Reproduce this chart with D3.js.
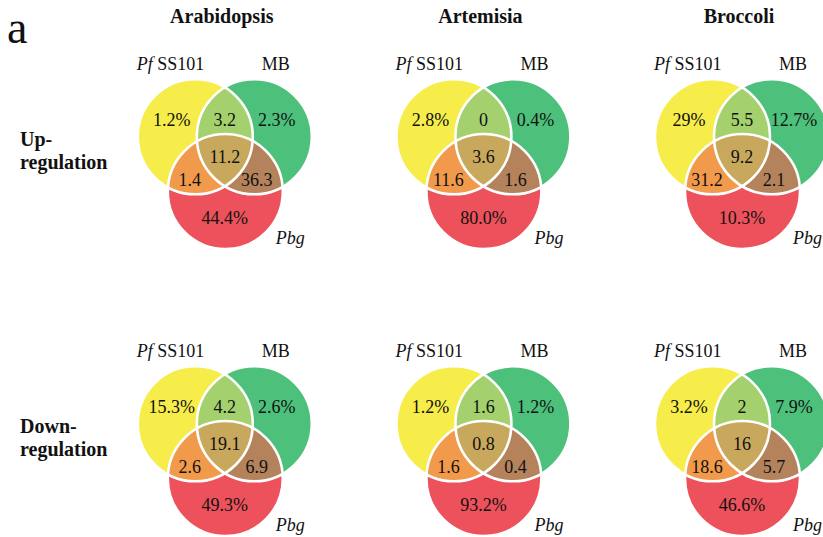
<!DOCTYPE html>
<html>
<head>
<meta charset="utf-8">
<script src="https://cdn.jsdelivr.net/npm/d3@7"></script>
<style>
  html, body { margin: 0; padding: 0; background: #fff; }
  svg { display: block; }
</style>
</head>
<body>
<script>
// Plants (columns) and regulation direction (rows)
const plants = ["Arabidopsis", "Artemisia", "Broccoli"];
const directions = ["Up-regulation", "Down-regulation"];
const rowLabels = [["Up-", "regulation"], ["Down-", "regulation"]];

// Set names
const setNames = ["Pf SS101", "MB", "Pbg"];

// Region order: Pf only, Pf∩MB, MB only, Pf∩Pbg, all three, MB∩Pbg, Pbg only
const regionKeys = ["pf", "pfmb", "mb", "pfpbg", "all", "mbpbg", "pbg"];

const upArabidopsis   = ["1.2%", "3.2", "2.3%", "1.4", "11.2", "36.3", "44.4%"];
const upArtemisia     = ["2.8%", "0", "0.4%", "11.6", "3.6", "1.6", "80.0%"];
const upBroccoli      = ["29%", "5.5", "12.7%", "31.2", "9.2", "2.1", "10.3%"];
const downArabidopsis = ["15.3%", "4.2", "2.6%", "2.6", "19.1", "6.9", "49.3%"];
const downArtemisia   = ["1.2%", "1.6", "1.2%", "1.6", "0.8", "0.4", "93.2%"];
const downBroccoli    = ["3.2%", "2", "7.9%", "18.6", "16", "5.7", "46.6%"];

const panelValues = [
  [upArabidopsis, upArtemisia, upBroccoli],
  [downArabidopsis, downArtemisia, downBroccoli]
];

// Region fill colours
const regionColors = {
  pf: "#f6ec4a", mb: "#4dc07b", pbg: "#ed515b",
  pfmb: "#a4d16d", pfpbg: "#f19a4c", mbpbg: "#b4825b", all: "#c8a85c"
};

const SERIF = "'Liberation Serif', 'Times New Roman', Times, serif";
const W = 823, H = 537;
const svg = d3.select("body").append("svg")
  .attr("width", W).attr("height", H)
  .attr("font-family", SERIF)
  .style("font-family", SERIF);

// Panel placement
const xCol = d3.scalePoint().domain(plants).range([224.8, 742]);
const yRow = d3.scalePoint().domain(directions).range([136.8, 423.8]);

// Circle layout (relative to the panel anchor = top circles' centre line)
const R = 57.5;
const circles = [
  { key: "pf",  x: -29.5, y: 0 },
  { key: "mb",  x: 29.5,  y: 0 },
  { key: "pbg", x: 0.5,   y: 54.7 }
];

// Label offsets for each region
const labelPos = {
  pf: [-53, -17], pfmb: [0, -17], mb: [52, -17],
  pfpbg: [-35, 43], all: [0, 20], mbpbg: [32, 43], pbg: [0, 81]
};

const txt = (sel) => sel.attr("font-family", SERIF).style("font-family", SERIF).attr("fill", "#111");

// Panel letter
txt(svg.append("text")).attr("x", 7).attr("y", 43)
  .style("font-size", "46px").text("a");

// Column titles
txt(svg.selectAll("text.title").data(plants).join("text"))
  .attr("class", "title")
  .attr("x", d => xCol(d) - 3)
  .attr("y", 23)
  .attr("text-anchor", "middle")
  .style("font-size", "20px").style("font-weight", "bold")
  .text(d => d);

// Row labels
directions.forEach((dir, i) => {
  const t = txt(svg.append("text")).attr("x", 20)
    .style("font-size", "20px").style("font-weight", "bold");
  t.append("tspan").attr("x", 20).attr("y", yRow(dir) + 9).text(rowLabels[i][0]);
  t.append("tspan").attr("x", 20).attr("y", yRow(dir) + 32).text(rowLabels[i][1]);
});

const defs = svg.append("defs");
let uid = 0;

directions.forEach((dir, ri) => {
  plants.forEach((plant, ci) => {
    const vals = panelValues[ri][ci];
    const px = xCol(plant), py = yRow(dir);
    const g = svg.append("g").attr("transform", `translate(${px},${py})`);

    // Clip paths for each set's circle (user space of the svg)
    const ids = {};
    circles.forEach(c => {
      const id = `clip${uid++}`;
      ids[c.key] = id;
      defs.append("clipPath").attr("id", id)
        .append("circle")
        .attr("cx", px + c.x).attr("cy", py + c.y).attr("r", R);
    });
    const circ = k => circles.find(c => c.key === k);

    const drawCircle = (parent, k, color) => {
      const c = circ(k);
      parent.append("circle").attr("cx", c.x).attr("cy", c.y).attr("r", R)
        .attr("fill", color);
    };

    // Single-set areas
    circles.forEach(c => drawCircle(g, c.key, regionColors[c.key]));

    // Overlap areas, drawn through nested clips
    const clipG = (parent, clipKey) => {
      const wrap = parent.append("g").attr("transform", `translate(${-px},${-py})`)
        .attr("clip-path", `url(#${ids[clipKey]})`);
      return wrap.append("g").attr("transform", `translate(${px},${py})`);
    };
    drawCircle(clipG(g, "pf"), "mb", regionColors.pfmb);
    drawCircle(clipG(g, "pf"), "pbg", regionColors.pfpbg);
    drawCircle(clipG(g, "mb"), "pbg", regionColors.mbpbg);
    drawCircle(clipG(clipG(g, "pf"), "mb"), "pbg", regionColors.all);

    // White outlines
    g.selectAll("circle.outline").data(circles).join("circle")
      .attr("class", "outline")
      .attr("cx", d => d.x).attr("cy", d => d.y).attr("r", R)
      .attr("fill", "none").attr("stroke", "#fff").attr("stroke-width", 2.6);

    // Region values
    txt(g.selectAll("text.val").data(regionKeys).join("text"))
      .attr("class", "val")
      .attr("x", (k) => labelPos[k][0])
      .attr("y", (k) => labelPos[k][1])
      .attr("dy", "0.35em")
      .attr("text-anchor", "middle")
      .style("font-size", "18px")
      .text((k, i) => vals[i]);

    // Set names
    const pfLab = txt(g.append("text")).attr("x", -88).attr("y", -67).style("font-size", "18px");
    pfLab.append("tspan").style("font-style", "italic").text("Pf");
    pfLab.append("tspan").text(" SS101");
    txt(g.append("text")).attr("x", 51).attr("y", -67).attr("text-anchor", "middle")
      .style("font-size", "18px").text(setNames[1]);
    txt(g.append("text")).attr("x", 51).attr("y", 107)
      .style("font-size", "18px").style("font-style", "italic").text(setNames[2]);
  });
});
</script>
</body>
</html>
